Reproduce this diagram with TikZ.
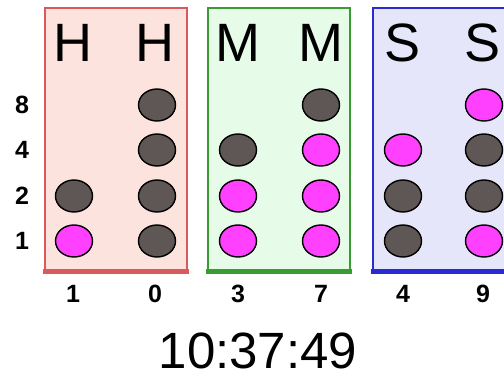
\documentclass[tikz,border=0pt]{standalone}
\usepackage{fontspec}
\setmainfont{Liberation Sans}
\usetikzlibrary{shapes.geometric}
\definecolor{pinkbg}{HTML}{FDE3DE}
\definecolor{pinkbd}{HTML}{D85A5A}
\definecolor{greenbg}{HTML}{E6FBE8}
\definecolor{greenbd}{HTML}{3A9B32}
\definecolor{bluebg}{HTML}{E6E6FA}
\definecolor{bluebd}{HTML}{2A2AD2}
\definecolor{onc}{HTML}{FF40FF}
\definecolor{offc}{HTML}{5E5755}
\begin{document}
\begin{tikzpicture}[x=1pt,y=-1pt,
  led/.style={ellipse,draw=black,line width=1.4pt,minimum width=37pt,minimum height=32pt,inner sep=0pt},
  ledon/.style={led,fill=onc},
  ledoff/.style={led,fill=offc},
  head/.style={font=\fontsize{54}{54}\selectfont},
  rowlab/.style={font=\fontsize{25}{25}\selectfont\bfseries},
  digit/.style={font=\fontsize{25}{25}\selectfont\bfseries}]
\useasboundingbox (0,0) rectangle (504,375);
\begin{scope}
\clip (0,0) rectangle (504,375);
% boxes
\fill[pinkbg] (45,8) rectangle (187,272);
\draw[pinkbd,line width=2pt] (45,272) -- (45,8) -- (187,8) -- (187,272);
\draw[pinkbd,line width=5pt] (43,271) -- (189,271);
\fill[greenbg] (208,8) rectangle (350,272);
\draw[greenbd,line width=2pt] (208,272) -- (208,8) -- (350,8) -- (350,272);
\draw[greenbd,line width=5pt] (206,271) -- (352,271);
\fill[bluebg] (373,8) rectangle (520,272);
\draw[bluebd,line width=2pt] (373,272) -- (373,8) -- (520,8);
\draw[bluebd,line width=5pt] (371,271) -- (520,271);
\end{scope}
% headers
\node[head] (h1) at (73,43) {H};
\node[head] (h0) at (155,43) {H};
\node[head] (m1) at (238,43) {M};
\node[head] (m0) at (321,43) {M};
\node[head] (s1) at (403,43) {S};
\node[head] (s0) at (483,43) {S};
% row labels
\node[rowlab] (r8) at (22,105) {8};
\node[rowlab] (r4) at (22,150) {4};
\node[rowlab] (r2) at (22,196) {2};
\node[rowlab] (r1) at (22,241) {1};
% hours tens
\node[ledoff] (a2) at (74,196) {};
\node[ledon] (a1) at (74,241) {};
% hours ones
\node[ledoff] (b8) at (157,105) {};
\node[ledoff] (b4) at (157,150) {};
\node[ledoff] (b2) at (157,196) {};
\node[ledoff] (b1) at (157,241) {};
% minutes tens
\node[ledoff] (c4) at (238,150) {};
\node[ledon] (c2) at (238,196) {};
\node[ledon] (c1) at (238,241) {};
% minutes ones
\node[ledoff] (d8) at (321,105) {};
\node[ledon] (d4) at (321,150) {};
\node[ledon] (d2) at (321,196) {};
\node[ledon] (d1) at (321,241) {};
% seconds tens
\node[ledon] (e4) at (403,150) {};
\node[ledoff] (e2) at (403,196) {};
\node[ledoff] (e1) at (403,241) {};
% seconds ones
\node[ledon] (f8) at (484,105) {};
\node[ledoff] (f4) at (484,150) {};
\node[ledoff] (f2) at (484,196) {};
\node[ledon] (f1) at (484,241) {};
% digits
\node[digit] (g1) at (73,294) {1};
\node[digit] (g2) at (155,294) {0};
\node[digit] (g3) at (238,294) {3};
\node[digit] (g4) at (321,294) {7};
\node[digit] (g5) at (403,294) {4};
\node[digit] (g6) at (483,294) {9};
% time
\node[font=\fontsize{51}{51}\selectfont,inner sep=0pt,anchor=base] (t) at (258,368) {10:37:49};
\end{tikzpicture}
\end{document}
